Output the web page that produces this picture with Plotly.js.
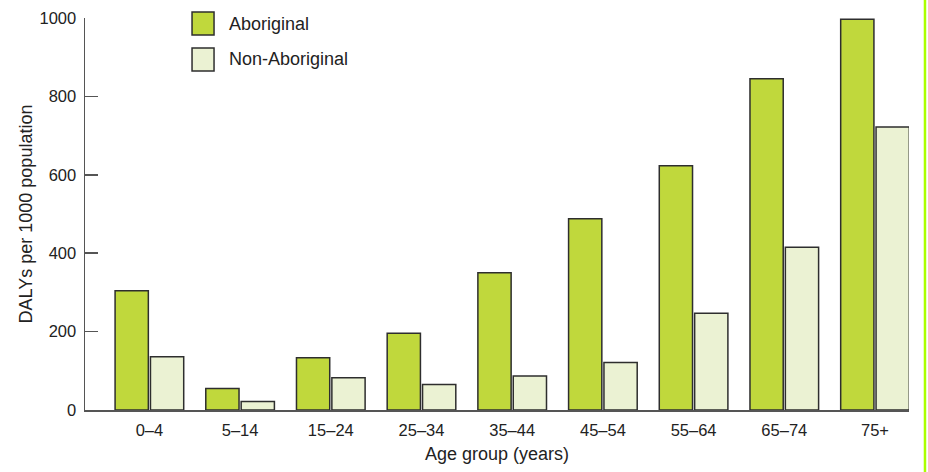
<!DOCTYPE html>
<html>
<head>
<meta charset="utf-8">
<script src="https://cdn.plot.ly/plotly-3.0.1.min.js"></script>
<style>
html,body{margin:0;padding:0;background:#fff;}
#chart{width:928px;height:472px;}
</style>
</head>
<body>
<div id="chart"></div>
<script>
const ageGroups = ["0–4","5–14","15–24","25–34","35–44","45–54","55–64","65–74","75+"];
const aboriginal = [304, 55, 133, 196, 350, 488, 623, 845, 997];
const nonAboriginal = [136, 22, 82, 65, 87, 121, 247, 415, 722];
const seriesNames = ["Aboriginal", "Non-Aboriginal"];
const yTicks = [0, 200, 400, 600, 800, 1000];

const colors = ["#c0d83c", "#ebf2d3"];
const outline = "#2e2e2e";
const axisColor = "#555555";
const font = "Liberation Sans, Arial, sans-serif";

const traces = [aboriginal, nonAboriginal].map((vals, i) => ({
  type: "bar",
  name: seriesNames[i],
  x: ageGroups,
  y: vals,
  marker: {color: colors[i], line: {color: outline, width: 1.5}},
  showlegend: false,
  hoverinfo: "x+y+name"
}));

// custom legend (large swatches)
const legX0 = 0.1299, legX1 = 0.1566, legTextX = 0.1723;
const legRows = [[0.9566, 1.0153], [0.8648, 0.9235]];
const shapes = legRows.map((r, i) => ({
  type: "rect", xref: "paper", yref: "paper",
  x0: legX0, x1: legX1, y0: r[0], y1: r[1],
  fillcolor: colors[i], line: {color: outline, width: 1.5}
}));
shapes.push({
  type: "line", xref: "paper", yref: "paper",
  x0: 1.0194, x1: 1.0194, y0: -0.17, y1: 1.06,
  line: {color: "#aaff00", width: 2.5}
});
const annotations = legRows.map((r, i) => ({
  xref: "paper", yref: "paper", x: legTextX, y: (r[0] + r[1]) / 2,
  xanchor: "left", yanchor: "middle", showarrow: false,
  text: seriesNames[i], font: {family: font, size: 18, color: "#222"}
}));

const layout = {
  width: 928, height: 472,
  margin: {l: 85, r: 19, t: 18, b: 62},
  paper_bgcolor: "#ffffff", plot_bgcolor: "#ffffff",
  font: {family: font, color: "#222"},
  barmode: "group",
  bargap: 0.22,
  bargroupgap: 0.06,
  xaxis: {
    type: "category",
    range: [-0.71, 8.375],
    showline: true, linecolor: axisColor, linewidth: 1.5,
    ticks: "", showgrid: false, zeroline: false,
    tickfont: {family: font, size: 16.5, color: "#222"},
    ticklabelstandoff: 5,
    title: {text: "Age group (years)", font: {family: font, size: 18, color: "#222"}, standoff: 9},
    automargin: false
  },
  yaxis: {
    range: [0, 1000],
    tickvals: yTicks,
    ticktext: yTicks.map(String),
    showline: true, linecolor: axisColor, linewidth: 1.5,
    ticks: "inside", ticklen: 13, tickwidth: 1.5, tickcolor: axisColor,
    showgrid: false, zeroline: false,
    tickfont: {family: font, size: 16.5, color: "#222"},
    ticklabelstandoff: 4,
    title: {text: "DALYs per 1000 population", font: {family: font, size: 18, color: "#222"}, standoff: 2},
    automargin: false
  },
  shapes: shapes,
  annotations: annotations
};

Plotly.newPlot("chart", traces, layout, {staticPlot: true, displayModeBar: false});
</script>
</body>
</html>
